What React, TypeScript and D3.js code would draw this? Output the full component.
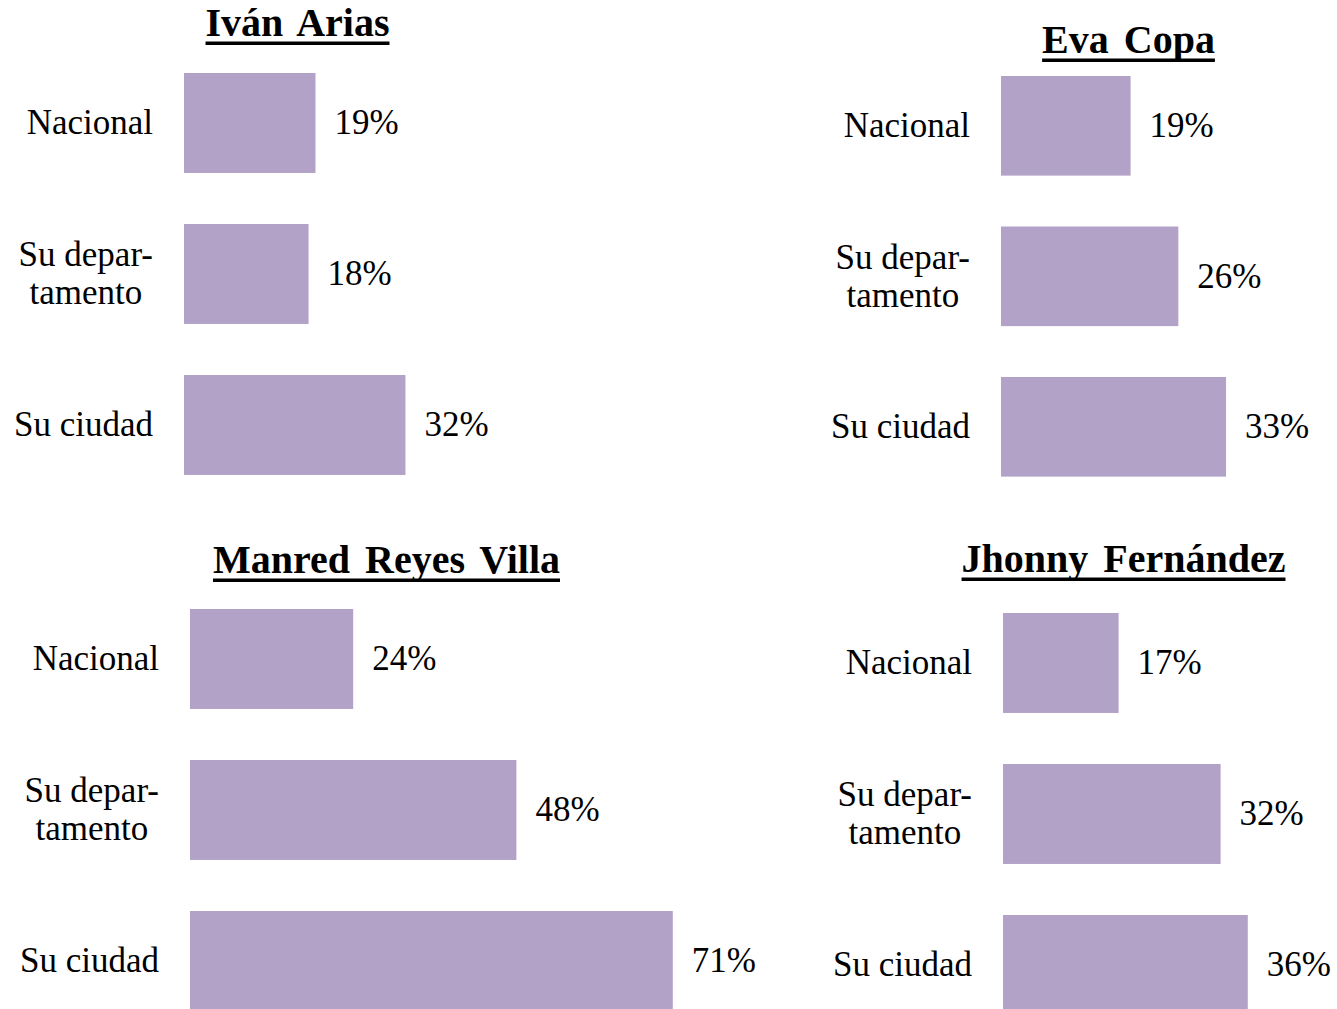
import { useEffect, useRef } from "react";
import * as d3 from "d3";

const categories = ["Nacional", "Su departamento", "Su ciudad"];
const categoryLines = [["Nacional"], ["Su depar-", "tamento"], ["Su ciudad"]];
const candidates = ["Iván Arias", "Eva Copa", "Manred Reyes Villa", "Jhonny Fernández"];
const ariasValues = [19, 18, 32];
const copaValues = [19, 26, 33];
const reyesVillaValues = [24, 48, 71];
const fernandezValues = [17, 32, 36];

const WIDTH = 1337;
const HEIGHT = 1009;
const BAR_COLOR = "#b3a2c7";
const FONT = "'Liberation Serif', 'Times New Roman', serif";

// layout of each small chart: bar origin, px per percent, first bar top, title position
const panels = [
  { name: candidates[0], values: ariasValues, x0: 184, k: 6.92, top: 73, step: 151, tx: 297.5, ty: 36 },
  { name: candidates[1], values: copaValues, x0: 1001, k: 6.82, top: 76, step: 150.5, tx: 1128.5, ty: 53 },
  { name: candidates[2], values: reyesVillaValues, x0: 190, k: 6.8, top: 609, step: 151, tx: 386.5, ty: 573 },
  { name: candidates[3], values: fernandezValues, x0: 1003, k: 6.8, top: 613, step: 151, tx: 1123.5, ty: 572 },
];

const App = () => {
  const ref = useRef<SVGSVGElement>(null);

  useEffect(() => {
    if (!ref.current) return;
    const svg = d3.select(ref.current);
    svg.selectAll("*").remove();

    panels.forEach((p) => {
      const g = svg.append("g");

      const x = d3.scaleLinear().domain([0, 100]).range([p.x0, p.x0 + 100 * p.k]);
      const outer = 0.169 * p.step;
      const y = d3.scaleBand<string>()
        .domain(categories)
        .range([p.top - outer, p.top - outer + 3 * p.step])
        .paddingInner(0.338)
        .paddingOuter(0.169);

      g.selectAll("rect.bar")
        .data(p.values)
        .enter().append("rect")
        .attr("class", "bar")
        .attr("x", x(0))
        .attr("y", (_, i) => y(categories[i])!)
        .attr("width", d => x(d) - x(0))
        .attr("height", y.bandwidth())
        .attr("fill", BAR_COLOR);

      // value labels
      g.selectAll("text.val")
        .data(p.values)
        .enter().append("text")
        .attr("class", "val")
        .attr("x", d => x(d) + 19)
        .attr("y", (_, i) => y(categories[i])! + y.bandwidth() / 2 + 11.5)
        .attr("font-family", FONT)
        .attr("font-size", 35)
        .attr("fill", "#000")
        .text(d => `${d}%`);

      // category labels
      categoryLines.forEach((lines, i) => {
        const cy = y(categories[i])! + y.bandwidth() / 2;
        const right = x(0) - 31;
        const lh = 38;
        const t = g.append("text")
          .attr("font-family", FONT)
          .attr("font-size", 35)
          .attr("fill", "#000")
          .attr("text-anchor", "middle");
        const firstBase = cy + 11.5 - ((lines.length - 1) * lh) / 2;
        const spans = lines.map((l, j) =>
          t.append("tspan").attr("y", firstBase + j * lh).text(l)
        );
        const w = d3.max(spans, s => (s.node() as SVGTSpanElement).getComputedTextLength()) || 0;
        spans.forEach(s => s.attr("x", right - w / 2));
      });

      // title, bold and underlined
      const title = g.append("text")
        .attr("x", p.tx)
        .attr("y", p.ty)
        .attr("text-anchor", "middle")
        .attr("font-family", FONT)
        .attr("font-size", 40)
        .attr("font-weight", "bold")
        .attr("word-spacing", 5)
        .attr("fill", "#000")
        .text(p.name);
      const bb = (title.node() as SVGTextElement).getBBox();
      g.append("rect")
        .attr("x", bb.x)
        .attr("y", p.ty + 5.5)
        .attr("width", bb.width)
        .attr("height", 3.5)
        .attr("fill", "#000");
    });
  }, []);

  return (
    <svg
      ref={ref}
      width={WIDTH}
      height={HEIGHT}
      style={{ position: "absolute", left: 0, top: 0, background: "#fff" }}
    />
  );
};

export default App;
